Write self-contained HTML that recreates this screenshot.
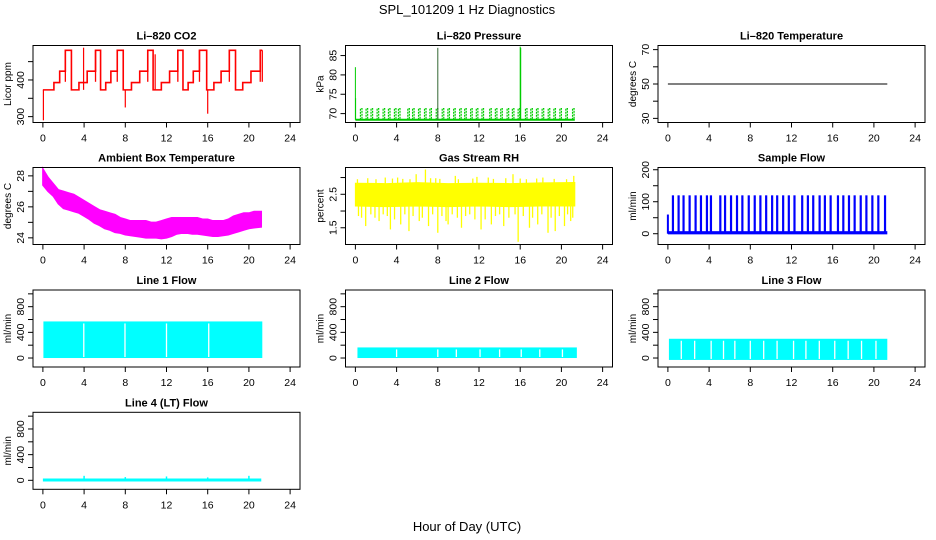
<!DOCTYPE html>
<html><head><meta charset="utf-8"><style>
html,body{margin:0;padding:0;background:#fff;}
svg{display:block;font-family:"Liberation Sans",sans-serif;}
</style></head><body>
<svg id="c" width="936" height="540" viewBox="0 0 936 540" xmlns="http://www.w3.org/2000/svg">
<text x="467" y="14" font-size="13" text-anchor="middle">SPL_101209  1 Hz Diagnostics</text>
<text x="467" y="531" font-size="13" text-anchor="middle">Hour of Day (UTC)</text>
</svg>
<script>
// ---- data ----
const xTicks = [0,4,8,12,16,20,24];
const co2T = [0,1.07,1.63,2.18,2.77,3.5,4.3,5.11,5.6,6.1,6.6,7.22,7.8,8.6,9.4,10.18,10.7,11.5,12.3,13.1,13.6,14.1,14.6,15.2,15.9,16.6,17.3,18.1,18.7,19.4,20.2,21.1,21.3];
const co2V = [373,393,424,481,373,393,424,481,373,393,424,481,373,393,424,481,373,393,424,481,373,393,424,481,373,393,424,481,373,393,424,481,481];
const co2SpikeT = [0.05,3.95,8.0,16.0,10.9];
const co2SpikeV = [290,488,325,308,470];
const pulseT = [0.49,1.04,1.52,2.11,2.69,3.21,3.79,4.18,5.09,5.55,6.13,6.71,7.23,7.85,8.43,8.98,9.54,10.12,10.61,11.19,11.74,12.29,13.04,13.59,14.11,14.73,15.24,15.80,16.51,17.03,17.58,18.13,18.72,19.27,19.85,20.43,21.08];
const presBase = 68.4, presPulse = 71.3;
const presSpikeT = [0.0,0.02,8.0,16.0,16.05];
const presSpikeV = [82,74,87,87.3,87];
const tempT = [0,21.3];
const tempV = [50,50];
const ambT = [0,0.5,1,1.5,2,2.5,3,3.5,4,4.5,5,5.5,6,6.5,7,7.5,8,8.5,9,9.5,10,10.5,11,11.5,12,12.5,13,13.5,14,14.5,15,15.5,16,16.5,17,17.5,18,18.5,19,19.5,20,20.5,21.2];
const ambHi = [28.45,27.9,27.5,27.1,27.0,26.9,26.8,26.6,26.4,26.2,26.0,25.8,25.7,25.6,25.5,25.3,25.2,25.1,25.1,25.1,25.1,25.0,25.0,25.1,25.2,25.3,25.3,25.3,25.3,25.3,25.3,25.2,25.2,25.1,25.1,25.1,25.2,25.4,25.5,25.6,25.6,25.7,25.7];
const ambLo = [27.4,27.0,26.7,26.2,25.9,25.8,25.7,25.6,25.4,25.2,24.95,24.8,24.6,24.5,24.35,24.3,24.2,24.15,24.1,24.05,24.0,24.0,24.0,23.95,24.0,24.1,24.25,24.3,24.3,24.25,24.25,24.2,24.15,24.1,24.1,24.15,24.2,24.3,24.4,24.5,24.6,24.65,24.7];
const rhT = [0,3,6,9,12,15,18,21.3];
const rhLo = [2.15,2.13,2.15,2.13,2.15,2.13,2.15,2.15];
const rhHi = [2.83,2.82,2.85,2.82,2.83,2.82,2.84,2.85];
const rhSpikeT = [0.6,1.0,2.3,3.4,4.4,5.2,6.2,7.1,8.0,9.0,10.3,11.6,12.2,13.2,14.4,15.8,16.9,17.7,18.7,19.4,20.3,20.9,0.3,1.5,1.9,2.7,3.1,3.8,4.8,5.6,6.5,7.5,8.4,8.8,9.4,9.9,10.7,11.1,12.6,13.6,14.0,14.9,15.5,16.3,17.2,18.1,19.0,19.8,20.6,21.1,6.8,5.9,15.3,21.2,2.9,9.7,12.9,18.2,0.2,1.2,2.0,3.6,4.6,5.3,7.3,8.2,10.0,11.4,13.4,14.6,16.6,17.6,19.3,20.5,4.1,7.8,11.8,16.0];
const rhSpikeV = [1.8,1.55,1.7,1.45,1.6,1.4,1.7,1.55,1.35,1.6,1.5,1.75,1.45,1.6,1.55,1.08,1.5,1.6,1.35,1.4,1.55,1.7,1.85,1.9,1.8,1.9,1.85,1.75,1.9,1.85,1.8,1.9,1.85,1.7,1.9,1.8,1.85,1.9,1.75,1.85,1.9,1.8,1.9,1.85,1.8,1.9,1.8,1.85,1.9,1.8,3.24,3.1,3.1,3.05,3.0,3.05,3.0,3.0,2.95,2.98,2.95,2.97,2.96,2.95,2.98,2.96,2.95,2.97,2.96,2.98,2.95,2.97,2.96,2.95,3.0,2.98,3.02,2.97];
const sampBase = 8, sampPulse = 120;
const line1Start = 0.05, line1End = 21.3, line1Top = 570;
const line1Gaps = [3.97,7.97,12.0,16.1];
const line2Start = 0.2, line2End = 21.5, line2Top = 165;
const line2Gaps = [4.0,8.0,9.8,12.1,14.0,16.1,17.9,20.1];
const line3Start = 0.1, line3End = 21.3, line3Top = 300, line3Bot = -30;
const line3Gaps = [4.2,5.4,6.5,8.0,12.2,16.2,20.2,1.3,2.6,9.3,10.6,13.4,14.7,17.5,18.8];
const line4Level = 5;
const line4SpikeT = [4,8,12,16,20];
const line4SpikeV = [70,50,60,45,70];

// ---- layout ----
const svg = document.getElementById('c');
const NS = 'http://www.w3.org/2000/svg';
const colL = [33,345.5,658], W = 267;
const rowT = [45.5,167.5,290,412.3], H = 77;
const XMIN = -0.96, XMAX = 24.96;
function mk(tag, attrs, parent){ const e=document.createElementNS(NS,tag); for(const k in attrs) e.setAttribute(k,attrs[k]); (parent||svg).appendChild(e); return e; }

function panel(name, title, col, row, ylim, ticks, labels, ylab){
  const L=colL[col], T=rowT[row];
  const g=mk('g',{});
  
  
  const sx=v=>L+(v-XMIN)/(XMAX-XMIN)*W;
  const sy=v=>T+H-(v-ylim[0])/(ylim[1]-ylim[0])*H;
  const t=mk('text',{x:L+W/2,y:T-6,'font-size':11,'font-weight':'bold','text-anchor':'middle'},g);
  t.textContent=title;
  
  
  const plot=mk('g',{},g);
  
  
  const box=mk('rect',{x:L,y:T,width:W,height:H,fill:'none',stroke:'#000','stroke-width':1},g);
  
  
  const xa=mk('g',{},g);
  
  
  xTicks.forEach(v=>{
    mk('line',{x1:sx(v),x2:sx(v),y1:T+H,y2:T+H+5,stroke:'#000'},xa);
    const tl=mk('text',{x:sx(v),y:T+H+19,'font-size':10.5,'text-anchor':'middle'},xa);
    tl.textContent=v;
  });
  const ya=mk('g',{},g);
  
  
  ticks.forEach((v,i)=>{
    mk('line',{x1:L-5,x2:L,y1:sy(v),y2:sy(v),stroke:'#000'},ya);
    if(labels[i]){
      const yl=mk('text',{x:0,y:0,'font-size':10.5,'text-anchor':'middle',transform:`translate(${L-9},${sy(v)}) rotate(-90)`},ya);
      yl.textContent=labels[i];
    }
  });
  const yt=mk('text',{x:0,y:0,'font-size':10,'text-anchor':'middle',transform:`translate(${L-22},${T+H/2}) rotate(-90)`},g);
  yt.textContent=ylab;
  
  
  return {sx,sy,g:plot,L,T};
}

// CO2
(function(){
  const p=panel('co2','Li\u2013820 CO2',0,0,[284,494],[300,350,400,450],['300','','400',''],'Licor ppm');
  let d='';
  co2T.forEach((t,i)=>{ if(i===0) d+=`M${p.sx(t)},${p.sy(co2V[i])}`; else d+=`H${p.sx(t)}V${p.sy(co2V[i])}`; });
  mk('path',{d,fill:'none',stroke:'#ff0000','stroke-width':1.6},p.g);
  co2SpikeT.forEach((t,i)=>{ mk('line',{x1:p.sx(t),x2:p.sx(t),y1:p.sy(373),y2:p.sy(co2SpikeV[i]),stroke:'#ff0000','stroke-width':1.2},p.g); });
  co2T.forEach((t,i)=>{ if(co2V[i]===481){ mk('line',{x1:p.sx(t),x2:p.sx(t),y1:p.sy(481),y2:p.sy(395),stroke:'#ff0000','stroke-width':1.3},p.g);} });
})();
// Pressure
(function(){
  const p=panel('pressure','Li\u2013820 Pressure',1,0,[67.7,87.6],[70,75,80,85],['70','75','80','85'],'kPa');
  mk('line',{x1:p.sx(0),x2:p.sx(21.3),y1:p.sy(presBase),y2:p.sy(presBase),stroke:'#00cc00','stroke-width':2},p.g);
  pulseT.forEach(t=>{
    mk('path',{d:`M${p.sx(t)},${p.sy(presBase)}V${p.sy(presPulse)}H${p.sx(t+0.15)}V${p.sy(presBase)}`,fill:'none',stroke:'#00cc00','stroke-width':1.2,'stroke-dasharray':'2,1'},p.g);
  });
  presSpikeT.forEach((t,i)=>{ mk('line',{x1:p.sx(t),x2:p.sx(t),y1:p.sy(presBase),y2:p.sy(presSpikeV[i]),stroke:i===2?'#336633':'#00cc00','stroke-width':1},p.g); });
})();
// Temperature
(function(){
  const p=panel('temperature','Li\u2013820 Temperature',2,0,[27.6,72.4],[30,40,50,60,70],['30','','50','','70'],'degrees C');
  mk('line',{x1:p.sx(tempT[0]),x2:p.sx(tempT[1]),y1:p.sy(tempV[0]),y2:p.sy(tempV[1]),stroke:'#000','stroke-width':1},p.g);
})();
// Ambient
(function(){
  const p=panel('ambient-temp','Ambient Box Temperature',0,1,[23.57,28.54],[24,25,26,27,28],['24','','26','','28'],'degrees C');
  let d='M'+ambT.map((t,i)=>`${p.sx(t)},${p.sy(ambHi[i])}`).join('L');
  for(let i=ambT.length-1;i>=0;i--) d+=`L${p.sx(ambT[i])},${p.sy(ambLo[i])}`;
  mk('path',{d:d+'Z',fill:'#ff00ff',stroke:'#ff00ff','stroke-width':1.5},p.g);
})();
// RH
(function(){
  const p=panel('gas-rh','Gas Stream RH',1,1,[1.0,3.3],[1.5,2,2.5,3],['1.5','','2.5',''],'percent');
  let d='M'+rhT.map((t,i)=>`${p.sx(t)},${p.sy(rhHi[i])}`).join('L');
  for(let i=rhT.length-1;i>=0;i--) d+=`L${p.sx(rhT[i])},${p.sy(rhLo[i])}`;
  mk('path',{d:d+'Z',fill:'#ffff00',stroke:'#ffff00','stroke-width':1},p.g);
  rhSpikeT.forEach((t,i)=>{ mk('line',{x1:p.sx(t),x2:p.sx(t),y1:p.sy(2.5),y2:p.sy(rhSpikeV[i]),stroke:'#ffff00','stroke-width':1.3},p.g); });
})();
// Sample flow
(function(){
  const p=panel('sample-flow','Sample Flow',2,1,[-33.7,207],[0,50,100,150,200],['0','','100','','200'],'ml/min');
  mk('rect',{x:p.sx(0),y:p.sy(sampBase),width:p.sx(21.3)-p.sx(0),height:p.sy(-2)-p.sy(sampBase),fill:'#0000ff'},p.g);
  mk('line',{x1:p.sx(0),x2:p.sx(0),y1:p.sy(0),y2:p.sy(60),stroke:'#0000ff','stroke-width':2},p.g);
  pulseT.forEach(t=>{ mk('line',{x1:p.sx(t),x2:p.sx(t),y1:p.sy(0),y2:p.sy(sampPulse),stroke:'#0000ff','stroke-width':2.2},p.g); });
})();
const flowTicks=[0,200,400,600,800,1000], flowLabels=['0','','400','','800',''], flowLim=[-140,1060];
function flowBand(p, a, b, lo, hi, gaps){
  mk('rect',{x:p.sx(a),y:p.sy(hi),width:p.sx(b)-p.sx(a),height:p.sy(lo)-p.sy(hi),fill:'#00ffff'},p.g);
  gaps.forEach(t=>{ mk('line',{x1:p.sx(t),x2:p.sx(t),y1:p.sy(hi)+2,y2:p.sy(lo)-1,stroke:'#fff','stroke-width':1.3},p.g); });
}
(function(){
  const p=panel('line1-flow','Line 1 Flow',0,2,flowLim,flowTicks,flowLabels,'ml/min');
  flowBand(p,line1Start,line1End,0,line1Top,line1Gaps);
})();
(function(){
  const p=panel('line2-flow','Line 2 Flow',1,2,flowLim,flowTicks,flowLabels,'ml/min');
  flowBand(p,line2Start,line2End,0,line2Top,line2Gaps);
})();
(function(){
  const p=panel('line3-flow','Line 3 Flow',2,2,flowLim,flowTicks,flowLabels,'ml/min');
  flowBand(p,line3Start,line3End,line3Bot,line3Top,line3Gaps);
})();
(function(){
  const p=panel('line4-flow','Line 4 (LT) Flow',0,3,flowLim,flowTicks,flowLabels,'ml/min');
  mk('line',{x1:p.sx(0),x2:p.sx(21.2),y1:p.sy(line4Level),y2:p.sy(line4Level),stroke:'#00ffff','stroke-width':3},p.g);
  line4SpikeT.forEach((t,i)=>{ mk('line',{x1:p.sx(t),x2:p.sx(t),y1:p.sy(0),y2:p.sy(line4SpikeV[i]),stroke:'#00ffff','stroke-width':1.5},p.g); });
})();
</script>
</body></html>
